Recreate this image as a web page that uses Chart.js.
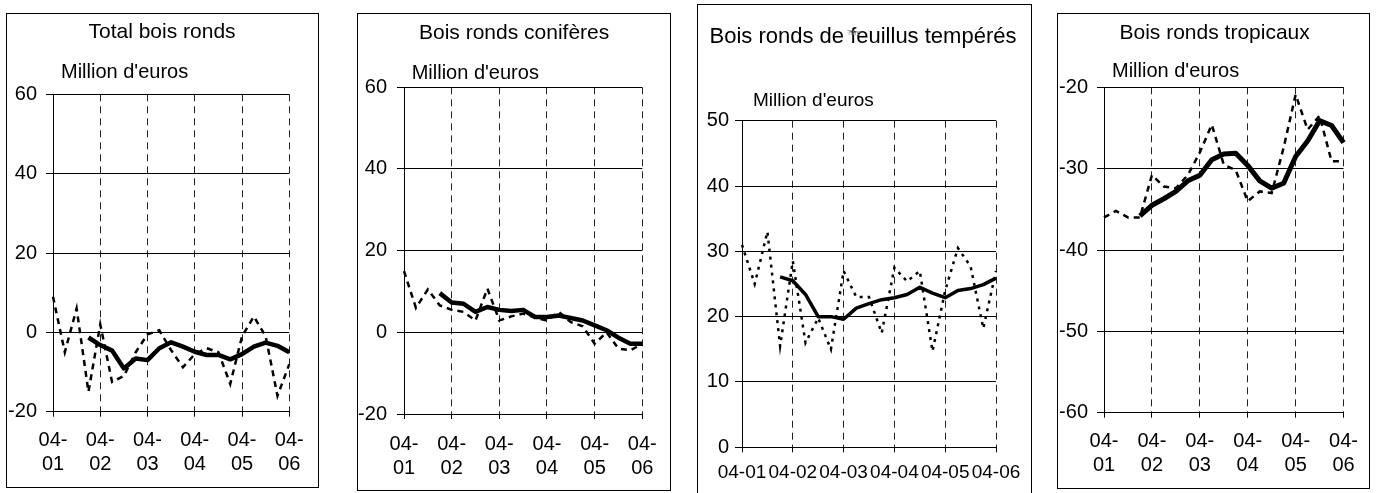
<!DOCTYPE html>
<html>
<head>
<meta charset="utf-8">
<script src="https://cdn.jsdelivr.net/npm/chart.js@4.4.1/dist/chart.umd.min.js"></script>
<style>
  html, body { margin:0; padding:0; background:#fff; width:1379px; height:493px; overflow:hidden; }
  body { position:relative; font-family:'Liberation Sans', Arial, sans-serif; color:#000; }
  canvas { position:absolute; }
  .frame { position:absolute; box-sizing:border-box; border:1px solid #000; pointer-events:none; }
  .txt { position:absolute; white-space:nowrap; line-height:1; }
</style>
</head>
<body>
<script>
// ---- data ----
const tickLabels = ['04-01', '04-02', '04-03', '04-04', '04-05', '04-06'];
const categories = ['04-01','','','','04-02','','','','04-03','','','','04-04','','','','04-05','','','','04-06'];

const titles = ['Total bois ronds', 'Bois ronds conifères', 'Bois ronds de feuillus tempérés', 'Bois ronds tropicaux'];
const unitLabel = "Million d'euros";

// dashed series (period values) and solid series (trend / moving average)
const totalValues    = [9, -5, 6, -15, 2, -12.5, -11, -5, -0.5, 0.5, -4.5, -8.8, -5.5, -4, -5, -13, -1, 4, -1, -16, -8];
const totalTrend     = [null, null, null, -1.3, -3.2, -4.6, -9.1, -6.6, -7.0, -4.0, -2.5, -3.6, -4.9, -5.7, -5.7, -6.8, -5.5, -3.6, -2.6, -3.4, -5.0];

const coniferValues  = [15, 6, 10.5, 6.6, 5.5, 5, 2.9, 10.7, 2.9, 3.9, 4.6, 3.6, 2.9, 5, 2.5, 1.5, -2.8, 0, -4, -4.4, -2.8];
const coniferTrend   = [null, null, null, 9.6, 7.3, 7.0, 5.0, 6.2, 5.5, 5.2, 5.5, 3.75, 3.75, 4.1, 3.5, 2.9, 1.7, 0.5, -1.3, -2.8, -2.8];

const temperateValues = [31, 25, 33, 15.5, 28.5, 16, 19.8, 15, 27, 23, 23, 17.5, 27.5, 25.4, 27, 14.7, 24, 30.5, 27.7, 18.2, 27];
const temperateTrend  = [null, null, null, 26.1, 25.5, 23.4, 20.0, 20.0, 19.6, 21.3, 22.0, 22.6, 22.9, 23.4, 24.5, 23.6, 22.9, 24.0, 24.3, 24.9, 25.9];

const tropicalValues = [-36, -35.2, -36, -36, -30.8, -32.2, -32.4, -30.8, -28, -24.6, -29.5, -30.2, -34, -32.8, -33, -27.4, -20.9, -25.2, -23.5, -29.1, -29.1];
const tropicalTrend  = [null, null, null, -35.8, -34.5, -33.7, -32.8, -31.5, -30.8, -28.9, -28.2, -28.1, -29.6, -31.5, -32.4, -31.8, -28.5, -26.6, -24.1, -24.7, -26.8];

const yRanges = [[-20, 60, 20], [-20, 60, 20], [0, 50, 10], [-60, -20, 10]];

// ---- layout (page pixels) ----
const panels = [
  { box:[6, 13, 313, 475],  plot:[53, 94.3, 289.3, 411.7],  vals: totalValues,     trend: totalTrend,
    title:{cx:162, top:20.4, size:21}, unit:{left:61, top:61.4, size:20},
    xSplit:true, xFont:20, xPad:12, yFont:20, yPad:9, dash:[6,5], dashW:2.5, solidW:4.5 },
  { box:[357, 13, 314, 478], plot:[404, 87.3, 642.3, 414],  vals: coniferValues,   trend: coniferTrend,
    title:{cx:514, top:21.4, size:21}, unit:{left:411.7, top:62.4, size:20},
    xSplit:true, xFont:20, xPad:13, yFont:20, yPad:10, dash:[6,5], dashW:2.5, solidW:4.5 },
  { box:[697, 4, 335, 495],  plot:[742, 120.7, 996, 447.3], vals: temperateValues, trend: temperateTrend,
    title:{cx:863, top:24.7, size:22}, unit:{left:753, top:89.9, size:19},
    xSplit:false, xFont:19, xPad:9, yFont:20, yPad:6, dash:[3,5], dashW:2.5, solidW:3.5 },
  { box:[1057, 13, 313, 476], plot:[1104, 87.3, 1344.7, 412.7], vals: tropicalValues, trend: tropicalTrend,
    title:{cx:1214.5, top:21.4, size:21}, unit:{left:1112, top:60.4, size:20},
    xSplit:true, xFont:20, xPad:12, yFont:20, yPad:9, dash:[6,5], dashW:2.5, solidW:5 }
];

Chart.defaults.font.family = "'Liberation Sans', Arial, sans-serif";
Chart.defaults.color = '#000';

function addText(str, left, top, size, extra) {
  const d = document.createElement('div');
  d.className = 'txt';
  d.textContent = str;
  d.style.left = left + 'px';
  d.style.top = top + 'px';
  d.style.fontSize = size + 'px';
  if (extra) Object.assign(d.style, extra);
  document.body.appendChild(d);
  return d;
}

panels.forEach((p, k) => {
  const [L, T, W, H] = p.box;
  const [pl, pt, pr, pb] = p.plot;
  const cv = document.createElement('canvas');
  cv.width = W; cv.height = Math.min(H, 493 - T);
  cv.style.left = L + 'px'; cv.style.top = T + 'px';
  cv.style.width = W + 'px'; cv.style.height = cv.height + 'px';
  document.body.appendChild(cv);

  const fr = document.createElement('div');
  fr.className = 'frame';
  Object.assign(fr.style, { left: L + 'px', top: T + 'px', width: W + 'px', height: H + 'px' });
  document.body.appendChild(fr);

  // titles
  const t = addText(titles[k], 0, p.title.top, p.title.size);
  t.style.left = (p.title.cx - t.offsetWidth / 2) + 'px';
  addText(unitLabel, p.unit.left, p.unit.top, p.unit.size);

  const yW = pl - L;
  const xH = (T + cv.height) - pb;
  const [ymin, ymax, ystep] = yRanges[k];

  new Chart(cv, {
    type: 'line',
    data: {
      labels: categories,
      datasets: [
        { data: p.trend, borderColor: '#000', borderWidth: p.solidW, pointRadius: 0, tension: 0,
          borderJoinStyle: 'round', borderCapStyle: 'butt', fill: false, spanGaps: false },
        { data: p.vals, borderColor: '#000', borderWidth: p.dashW, borderDash: p.dash, pointRadius: 0, tension: 0,
          borderJoinStyle: 'miter', borderCapStyle: 'butt', fill: false }
      ]
    },
    options: {
      responsive: false,
      animation: false,
      devicePixelRatio: 1,
      events: [],
      layout: { padding: { left: 0, top: pt - T, right: (L + W) - pr, bottom: 0 } },
      plugins: { legend: { display: false }, tooltip: { enabled: false }, title: { display: false } },
      scales: {
        x: {
          type: 'category',
          offset: false,
          afterFit: (s) => { s.height = xH; },
          grid: {
            color: (c) => (c.index % 4 === 0 ? '#222' : 'rgba(0,0,0,0)'),
            tickColor: (c) => (c.index % 4 === 0 ? '#000' : 'rgba(0,0,0,0)'),
            lineWidth: 1,
            tickLength: 5,
            offset: false
          },
          border: { display: true, color: '#000', width: 1, dash: [7, 5] },
          ticks: {
            autoSkip: false, maxRotation: 0, minRotation: 0,
            padding: p.xPad,
            font: { size: p.xFont, lineHeight: 1.2 },
            color: '#000',
            callback: (v, i) => {
              const lab = categories[i];
              if (!lab) return '';
              if (p.xSplit) { return [lab.slice(0, 3), lab.slice(3)]; }
              return lab;
            }
          }
        },
        y: {
          min: ymin, max: ymax,
          afterFit: (s) => { s.width = yW; },
          grid: { color: '#000', lineWidth: 1, tickLength: 7, drawTicks: true },
          border: { display: true, color: '#000', width: 1 },
          ticks: { stepSize: ystep, padding: p.yPad, font: { size: p.yFont }, color: '#000' }
        }
      }
    }
  });
});

// tiny overlapping label visible in the third panel's title
addText('Titre', 847, 29, 7, { color: '#888' });
</script>
</body>
</html>
